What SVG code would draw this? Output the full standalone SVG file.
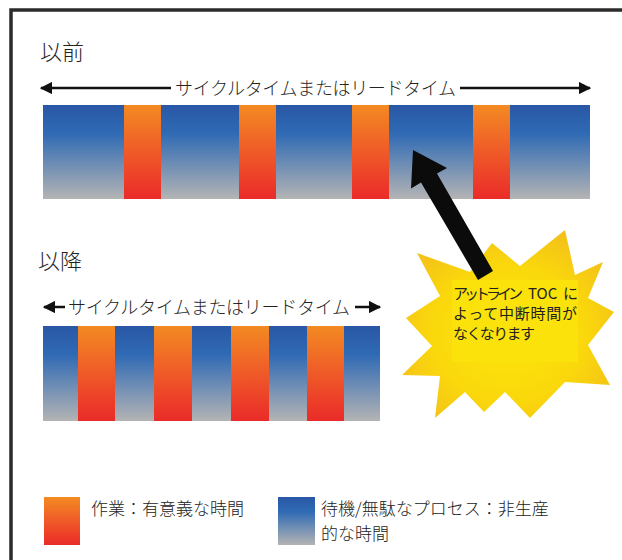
<svg xmlns="http://www.w3.org/2000/svg" width="622" height="560" viewBox="0 0 622 560">
  <defs>
    <linearGradient id="gBlue" x1="0" y1="0" x2="0" y2="1">
      <stop offset="0" stop-color="#2957a6"/>
      <stop offset="0.3" stop-color="#2f6ab4"/>
      <stop offset="1" stop-color="#b4b4b4"/>
    </linearGradient>
    <linearGradient id="gOrange" x1="0" y1="0" x2="0" y2="1">
      <stop offset="0" stop-color="#f38a22"/>
      <stop offset="0.5" stop-color="#ef5a28"/>
      <stop offset="1" stop-color="#ea2b29"/>
    </linearGradient>
    <radialGradient id="gStar" cx="0.5" cy="0.55" r="0.6">
      <stop offset="0" stop-color="#fde60a"/>
      <stop offset="0.6" stop-color="#fad80c"/>
      <stop offset="1" stop-color="#f3bf1a"/>
    </radialGradient>
    <marker id="ah" viewBox="0 0 10 10" refX="9" refY="5" markerWidth="5" markerHeight="5" orient="auto-start-reverse" markerUnits="strokeWidth">
      <path d="M0,0 L10,5 L0,10 z" fill="#111"/>
    </marker>
  </defs>
  <style>
    .jp { font-family: "Noto Sans CJK JP", "Noto Sans", sans-serif; fill: #222; font-weight: 300; }
    .title { font-size: 22px; }
    .span { font-size: 18px; }
    .leg { font-size: 17px; }
    .burst { font-size: 15px; font-weight: 400; }
    .blue { fill: url(#gBlue); }
    .orange { fill: url(#gOrange); }
    .thin { stroke: #111; stroke-width: 2.5; fill: none; marker-end: url(#ah); }
  </style>
  <rect x="0" y="0" width="622" height="560" fill="#ffffff"/>
  <g id="frame">
    <path d="M11,560 L11,10 L622,10" fill="none" stroke="#2b2b2b" stroke-width="3.5"/>
  </g>

  <g id="before">
    <text class="jp title" x="40" y="60">以前</text>
    <text class="jp span" x="175" y="95" textLength="281">サイクルタイムまたはリードタイム</text>
    <line class="thin" x1="171" y1="88" x2="41" y2="88"/>
    <line class="thin" x1="460" y1="88" x2="590" y2="88"/>
    <rect class="blue" x="43" y="105" width="547" height="94"/>
    <rect class="orange" x="124" y="105" width="37" height="94"/>
    <rect class="orange" x="239" y="105" width="37" height="94"/>
    <rect class="orange" x="352" y="105" width="37" height="94"/>
    <rect class="orange" x="473" y="105" width="37" height="94"/>
  </g>

  <g id="after">
    <text class="jp title" x="38" y="269">以降</text>
    <text class="jp span" x="68" y="314" textLength="282">サイクルタイムまたはリードタイム</text>
    <line class="thin" x1="65" y1="307" x2="44" y2="307"/>
    <line class="thin" x1="355" y1="307" x2="380" y2="307"/>
    <rect class="blue" x="43" y="326" width="337" height="95"/>
    <rect class="orange" x="78" y="326" width="37" height="95"/>
    <rect class="orange" x="154" y="326" width="38" height="95"/>
    <rect class="orange" x="231" y="326" width="38" height="95"/>
    <rect class="orange" x="307" y="326" width="37" height="95"/>
  </g>

  <g id="burst">
    <polygon fill="url(#gStar)" points="565,230 575,275 603,262 588,298 614,312 588,345 610,385 565,382 530,418 505,392 484,412 465,392 435,418 440,376 402,375 432,346 406,318 440,296 417,253 470,272 492,243 520,266"/>
  </g>

  <g id="connectors">
    <polygon fill="#0b0b0c" points="413,150 447,168 437,173.5 493,271 478,280 421,182.5 411,188.5"/>
  </g>

  <g id="burst-label">
    <rect x="452" y="280" width="126" height="82" fill="#fbe20b"/>
    <text class="jp burst"><tspan x="453" y="299" textLength="70">アットライン</tspan><tspan x="528" y="299">TOC</tspan><tspan x="563" y="299">に</tspan><tspan x="453" y="319" textLength="124">よって中断時間が</tspan><tspan x="453" y="339" textLength="82">なくなります</tspan></text>
  </g>

  <g id="legend-work">
    <rect class="orange" x="44" y="497" width="36" height="48"/>
    <text class="jp leg" x="91" y="515">作業：有意義な時間</text>
  </g>
  <g id="legend-wait">
    <rect class="blue" x="278" y="497" width="37" height="48"/>
    <text class="jp leg" x="321" y="515">待機/無駄なプロセス：非生産</text>
    <text class="jp leg" x="321" y="540">的な時間</text>
  </g>
</svg>
